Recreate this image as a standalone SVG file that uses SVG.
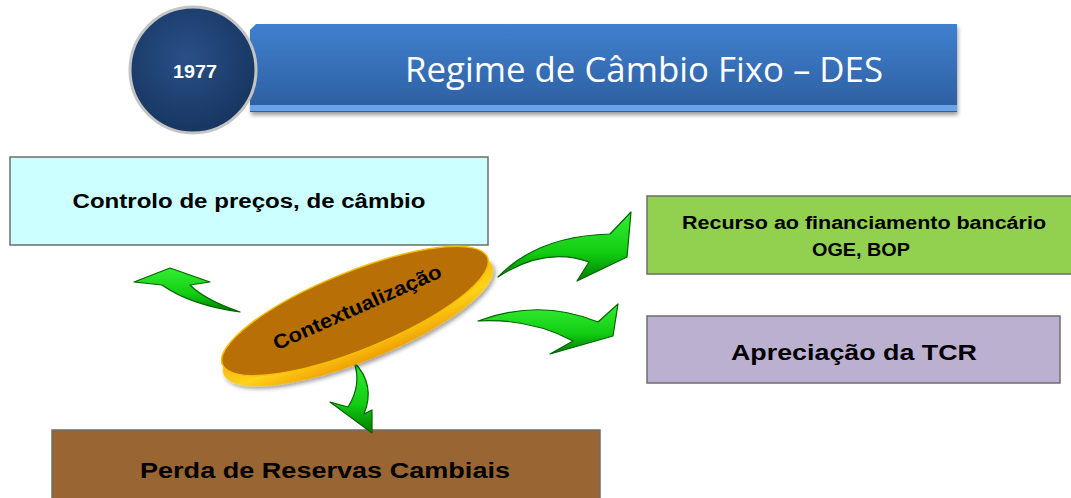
<svg xmlns="http://www.w3.org/2000/svg" width="1071" height="498" viewBox="0 0 1071 498">
<defs>
<linearGradient id="bannerG" x1="0" y1="0" x2="0" y2="1">
<stop offset="0" stop-color="#3f80cf"/>
<stop offset="1" stop-color="#2d5e9e"/>
</linearGradient>
<radialGradient id="circG" cx="0.45" cy="0.4" r="0.6">
<stop offset="0" stop-color="#2a5088"/>
<stop offset="1" stop-color="#173661"/>
</radialGradient>
<linearGradient id="rimG" x1="0" y1="0" x2="0" y2="1">
<stop offset="0" stop-color="#e89a00"/>
<stop offset="0.7" stop-color="#ffd21a"/>
<stop offset="1" stop-color="#f0a000"/>
</linearGradient>
<linearGradient id="greenG" x1="0" y1="0" x2="0" y2="1">
<stop offset="0" stop-color="#33ee33"/>
<stop offset="0.6" stop-color="#11cc11"/>
<stop offset="1" stop-color="#007a00"/>
</linearGradient>
<filter id="sh" x="-10%" y="-10%" width="120%" height="140%">
<feGaussianBlur in="SourceAlpha" stdDeviation="2"/>
<feOffset dx="1" dy="3"/>
<feComponentTransfer><feFuncA type="linear" slope="0.4"/></feComponentTransfer>
<feMerge><feMergeNode/><feMergeNode in="SourceGraphic"/></feMerge>
</filter>
</defs>
<style>
.box{stroke:#6d6d6d;stroke-width:1.5}
.lbl{font-family:"Liberation Sans",Arial,sans-serif;font-weight:bold;fill:#000;text-anchor:middle}
.arrow{fill:url(#greenG);stroke:#006400;stroke-width:1.2;stroke-linejoin:round}
</style>
<rect width="1071" height="498" fill="#ffffff"/>

<g id="header">
<g filter="url(#sh)">
<path d="M256,24 L957,24 L957,112 L250,112 L250,30 Z" fill="url(#bannerG)"/>
<rect x="250" y="105" width="707" height="6" fill="#6aa3e6"/>
</g>
<text x="644" y="82" font-family="'Open Sans','Noto Sans',sans-serif" font-size="34" fill="#ffffff" text-anchor="middle" textLength="478" lengthAdjust="spacingAndGlyphs">Regime de Câmbio Fixo – DES</text>
<circle cx="193" cy="70" r="63" fill="url(#circG)" stroke="#c4c4c4" stroke-width="3"/>
<text x="195" y="78" font-family="'Liberation Sans',Arial,sans-serif" font-weight="bold" font-size="18" fill="#ffffff" text-anchor="middle" textLength="44" lengthAdjust="spacingAndGlyphs">1977</text>
</g>

<g id="controlo">
<rect class="box" x="10" y="157" width="478" height="88" fill="#ccffff"/>
<text class="lbl" x="249" y="208" font-size="20" textLength="353" lengthAdjust="spacingAndGlyphs">Controlo de preços, de câmbio</text>
</g>

<g id="recurso">
<rect class="box" x="647" y="196" width="430" height="78" fill="#92d050"/>
<text class="lbl" x="864" y="229" font-size="18" textLength="364" lengthAdjust="spacingAndGlyphs">Recurso ao financiamento bancário</text>
<text class="lbl" x="861" y="256" font-size="18" textLength="98" lengthAdjust="spacingAndGlyphs">OGE, BOP</text>
</g>

<g id="apreciacao">
<rect class="box" x="647" y="316" width="413" height="67" fill="#bcb0d0"/>
<text class="lbl" x="854" y="360" font-size="22" textLength="246" lengthAdjust="spacingAndGlyphs">Apreciação da TCR</text>
</g>

<g id="perda">
<rect class="box" x="52" y="430" width="548" height="80" fill="#996633"/>
<text class="lbl" x="325" y="478" font-size="22" textLength="370" lengthAdjust="spacingAndGlyphs">Perda de Reservas Cambiais</text>
</g>

<g id="connectors">
<path class="arrow" d="M240,312 Q205,300 190,285 L210,282 L170,268 L134,282 L162,285 Q190,305 240,312 Z"/>
<path class="arrow" d="M498,277 Q537,236 610,234 L631,212 L627,257 L577,281 L589,262 Q545,246 498,277 Z"/>
<path class="arrow" d="M478,321 Q540,298 598,322 L618,304 L613,336 L550,354 L573,341 Q530,318 478,321 Z"/>
<path class="arrow" d="M354,362 Q376,385 364,414 L372,410 L372,433 L330,402 L348,407 Q362,385 354,362 Z"/>
</g>

<g id="contextualizacao">
<ellipse cx="358" cy="320" rx="145" ry="41" transform="rotate(-22 358 320)" fill="url(#rimG)" filter="url(#sh)"/>
<ellipse cx="355" cy="311" rx="143" ry="39" transform="rotate(-22 355 311)" fill="#b86f06" stroke="#f5c000" stroke-width="1.5"/>
<text x="357" y="314" class="lbl" font-size="20" fill="#1a1a1a" transform="rotate(-24 357 307)" textLength="182" lengthAdjust="spacingAndGlyphs">Contextualização</text>
</g>
</svg>
